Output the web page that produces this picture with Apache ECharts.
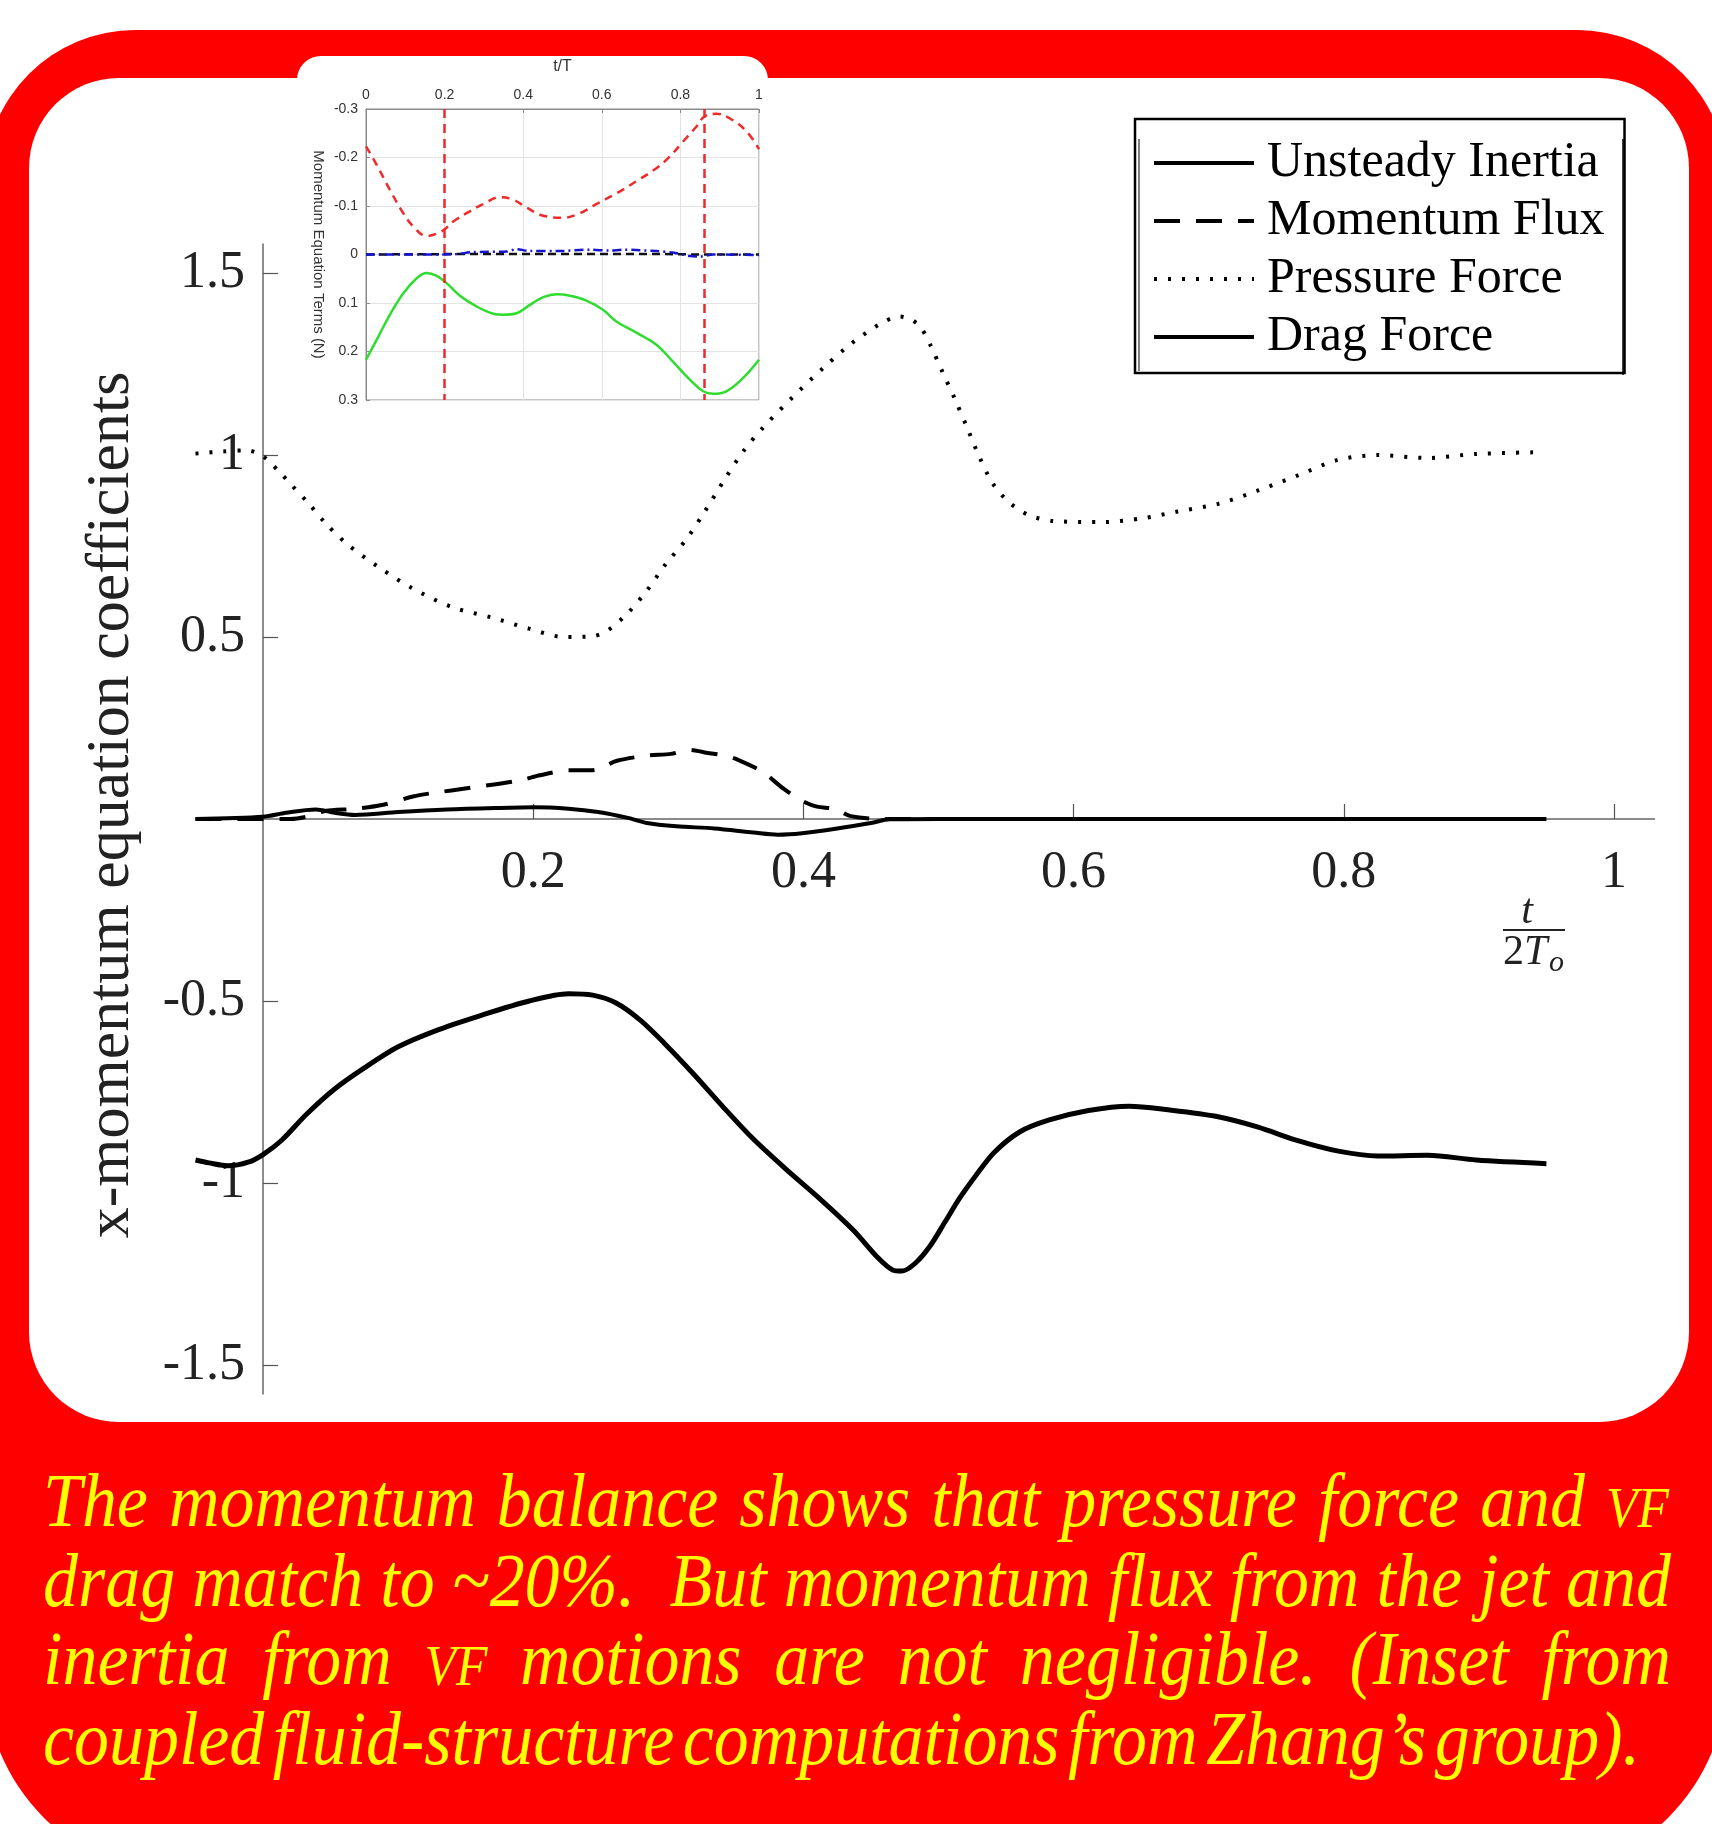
<!DOCTYPE html>
<html>
<head>
<meta charset="utf-8">
<script src="https://cdn.jsdelivr.net/npm/echarts@6/dist/echarts.min.js"></script>
<style>
html,body{margin:0;padding:0;background:#fff;}
#c{width:1712px;height:1824px;}
</style>
</head>
<body>
<div id="c"></div>
<script>
// ---------------- DATA ----------------
const xTickValues = [0.2, 0.4, 0.6, 0.8, 1];
const yTickValues = [-1.5, -1, -0.5, 0.5, 1, 1.5];
const seriesNames = ['Unsteady Inertia', 'Momentum Flux', 'Pressure Force', 'Drag Force'];

const unsteadyInertia = [[-0.05,0],[0,0.006],[0.017,0.017],[0.039,0.026],[0.053,0.017],[0.068,0.011],[0.1,0.019],[0.136,0.026],[0.172,0.03],[0.201,0.032],[0.226,0.028],[0.248,0.019],[0.27,0.003],[0.284,-0.011],[0.306,-0.02],[0.334,-0.026],[0.363,-0.037],[0.381,-0.043],[0.399,-0.039],[0.425,-0.026],[0.45,-0.011],[0.464,-0.001],[0.5,0],[0.95,0]];

const momentumFlux = [[-0.05,0],[0.02,0],[0.032,0.006],[0.046,0.022],[0.068,0.028],[0.089,0.039],[0.111,0.062],[0.125,0.071],[0.154,0.086],[0.19,0.106],[0.205,0.12],[0.226,0.134],[0.244,0.134],[0.262,0.16],[0.284,0.174],[0.302,0.179],[0.316,0.19],[0.327,0.183],[0.342,0.174],[0.352,0.162],[0.37,0.129],[0.385,0.084],[0.399,0.05],[0.41,0.034],[0.423,0.028],[0.435,0.008],[0.46,0],[0.95,0]];

const pressureForce = [[-0.05,1.004],[-0.03,1.01],[-0.012,1.013],[0,0.997],[0.014,0.946],[0.021,0.918],[0.034,0.866],[0.046,0.814],[0.062,0.756],[0.086,0.691],[0.111,0.633],[0.14,0.582],[0.169,0.554],[0.197,0.523],[0.223,0.5],[0.244,0.502],[0.255,0.518],[0.27,0.566],[0.284,0.627],[0.298,0.7],[0.313,0.767],[0.327,0.845],[0.342,0.935],[0.356,1.013],[0.37,1.075],[0.392,1.159],[0.414,1.237],[0.435,1.305],[0.457,1.361],[0.471,1.381],[0.48,1.372],[0.487,1.35],[0.494,1.302],[0.503,1.228],[0.512,1.155],[0.521,1.077],[0.53,0.997],[0.54,0.923],[0.552,0.871],[0.567,0.835],[0.585,0.819],[0.622,0.816],[0.652,0.827],[0.677,0.845],[0.707,0.866],[0.736,0.902],[0.766,0.944],[0.795,0.986],[0.825,1.0],[0.862,0.992],[0.898,1.003],[0.946,1.008]];

const dragForce = [[-0.05,-0.937],[-0.04,-0.945],[-0.026,-0.953],[-0.011,-0.943],[0,-0.922],[0.014,-0.882],[0.032,-0.812],[0.053,-0.742],[0.075,-0.684],[0.1,-0.626],[0.129,-0.58],[0.161,-0.54],[0.197,-0.5],[0.226,-0.48],[0.244,-0.484],[0.261,-0.505],[0.279,-0.552],[0.297,-0.616],[0.319,-0.702],[0.34,-0.789],[0.362,-0.876],[0.387,-0.962],[0.412,-1.043],[0.437,-1.13],[0.455,-1.205],[0.466,-1.239],[0.473,-1.242],[0.483,-1.22],[0.494,-1.172],[0.505,-1.106],[0.516,-1.04],[0.527,-0.983],[0.541,-0.917],[0.56,-0.86],[0.582,-0.827],[0.611,-0.801],[0.641,-0.789],[0.67,-0.799],[0.707,-0.818],[0.736,-0.846],[0.766,-0.884],[0.795,-0.912],[0.825,-0.926],[0.862,-0.924],[0.898,-0.937],[0.95,-0.947]];

// inset (coupled FSI computations)
const insetRed = [[0,-0.223],[0.027,-0.185],[0.061,-0.133],[0.095,-0.085],[0.12,-0.058],[0.154,-0.038],[0.18,-0.043],[0.2,-0.052],[0.222,-0.068],[0.264,-0.089],[0.298,-0.104],[0.341,-0.118],[0.375,-0.113],[0.408,-0.097],[0.451,-0.08],[0.502,-0.076],[0.544,-0.085],[0.586,-0.104],[0.637,-0.126],[0.688,-0.151],[0.739,-0.178],[0.773,-0.202],[0.807,-0.233],[0.841,-0.264],[0.862,-0.285],[0.892,-0.29],[0.925,-0.281],[0.968,-0.254],[1,-0.217]];
const insetGreen = [[0,0.217],[0.027,0.176],[0.061,0.124],[0.095,0.08],[0.129,0.049],[0.154,0.038],[0.18,0.044],[0.205,0.059],[0.239,0.085],[0.281,0.107],[0.324,0.122],[0.349,0.124],[0.383,0.121],[0.417,0.104],[0.451,0.088],[0.485,0.082],[0.519,0.085],[0.561,0.095],[0.603,0.114],[0.637,0.138],[0.688,0.161],[0.739,0.186],[0.781,0.221],[0.824,0.258],[0.858,0.282],[0.883,0.287],[0.917,0.282],[0.959,0.255],[1,0.217]];
const insetBlue = [[0,0],[0.2,0],[0.231,-0.001],[0.273,-0.005],[0.358,-0.006],[0.383,-0.011],[0.417,-0.007],[0.485,-0.007],[0.57,-0.01],[0.62,-0.008],[0.654,-0.01],[0.739,-0.007],[0.781,-0.004],[0.824,0.003],[0.85,0.004],[0.883,0],[1,0.001]];
const insetBlack = [[0,0],[0.25,-0.001],[0.75,-0.001],[0.85,0],[1,0]];
const insetMarkers = [0.2, 0.86];

// '' marks an extra (double) space
const captionLines = [
  ['The','momentum','balance','shows','that','pressure','force','and','VF'],
  ['drag','match','to','~20%.','','But','momentum','flux','from','the','jet','and'],
  ['inertia','from','VF','motions','are','not','negligible.','(Inset','from'],
  ['coupled','fluid-structure','computations','from','Zhang\u2019s','group).']
];

// ---------------- LAYOUT HELPERS ----------------
const SERIF = '"Liberation Serif","Times New Roman",serif';
const capF = 76, capSmall = 56, capSX = 0.92;
const capLeft = 43;
const capRight = [1669, 1671, 1671, 1640];
const capBase = [1530, 1610, 1688, 1768];
const mctx = document.createElement('canvas').getContext('2d');
function wordFont(w){ return w === 'VF' ? capSmall : capF; }
function measureWord(w){
  if (!w) return 0;
  mctx.font = 'italic ' + wordFont(w) + 'px ' + SERIF;
  return mctx.measureText(w).width * capSX;
}
const captionGraphics = [];
captionLines.forEach(function(words, li){
  const widths = words.map(measureWord);
  const total = widths.reduce(function(a,b){return a+b;},0);
  let gap = (capRight[li] - capLeft - total) / (words.length - 1);
  if (gap < 6) gap = 6;
  let x = capLeft;
  words.forEach(function(w, wi){
    if (w) {
      const fs = wordFont(w);
      captionGraphics.push({
        type: 'text', x: x, y: capBase[li] - 0.31 * fs, scaleX: capSX, scaleY: 1, z: 50, silent: true,
        style: {
          text: w, fontFamily: SERIF, fontStyle: 'italic', fontSize: fs,
          fill: '#ffff00', align: 'left', verticalAlign: 'middle',
          textShadowColor: 'rgba(0,0,0,0.95)', textShadowBlur: 0,
          textShadowOffsetX: 2, textShadowOffsetY: 3
        }
      });
    }
    x += widths[wi] + gap;
  });
});

// ---------------- CHART ----------------
const chart = echarts.init(document.getElementById('c'), null, {renderer: 'canvas'});

const mainLine = function(name, data, width, type, z){
  return {
    name: name, type: 'line', xAxisIndex: 0, yAxisIndex: 0, data: data,
    smooth: 0.3, symbol: 'none', showSymbol: false, z: z || 5,
    itemStyle: {color: '#000'},
    lineStyle: {color: '#000', width: width, type: type || 'solid', cap: 'butt'}
  };
};

// main grid geometry: x in [-0.05, 1.03], y in [-1.58, 1.58]
const G = {left: 195.5, top: 244, width: 1459, height: 1150, xmin: -0.05, xmax: 1.03, ymin: -1.58, ymax: 1.58};
const yAxisOffset = -G.width * (0 - G.xmin) / (G.xmax - G.xmin);   // move y axis to x = 0
const xAxisOffset = -G.height * (0 - G.ymin) / (G.ymax - G.ymin);  // move x axis to y = 0

const option = {
  animation: false,
  backgroundColor: '#ffffff',
  graphic: [
    {type: 'rect', z: -100, silent: true, shape: {x: -15, y: 30, width: 1742, height: 1846, r: [150,150,200,200]}, style: {fill: '#ff0000'}},
    {type: 'rect', z: -99, silent: true, shape: {x: 29, y: 78, width: 1660, height: 1344, r: 90}, style: {fill: '#ffffff'}},
    {type: 'rect', z: -99, silent: true, shape: {x: 297, y: 56, width: 471, height: 300, r: 24}, style: {fill: '#ffffff'}},
    {type: 'line', z: 20, silent: true, shape: {x1: 1623, y1: 139, x2: 1623, y2: 375}, style: {stroke: '#000', lineWidth: 1.5}},
    {type: 'line', z: 20, silent: true, shape: {x1: 1139, y1: 139, x2: 1139, y2: 371}, style: {stroke: '#000', lineWidth: 1}},
    {type: 'text', x: 1527, y: 912, z: 20, silent: true, style: {text: 't', fontFamily: SERIF, fontStyle: 'italic', fontSize: 42, fill: '#222', align: 'center', verticalAlign: 'middle'}},
    {type: 'line', z: 20, silent: true, shape: {x1: 1503, y1: 930, x2: 1565, y2: 930}, style: {stroke: '#222', lineWidth: 2}},
    {type: 'text', x: 1503, y: 953, z: 20, silent: true, style: {text: '2', fontFamily: SERIF, fontSize: 42, fill: '#222', align: 'left', verticalAlign: 'middle'}},
    {type: 'text', x: 1524, y: 953, z: 20, silent: true, style: {text: 'T', fontFamily: SERIF, fontStyle: 'italic', fontSize: 42, fill: '#222', align: 'left', verticalAlign: 'middle'}},
    {type: 'text', x: 1549, y: 963, z: 20, silent: true, style: {text: 'o', fontFamily: SERIF, fontStyle: 'italic', fontSize: 30, fill: '#222', align: 'left', verticalAlign: 'middle'}}
  ].concat(captionGraphics),
  legend: {
    orient: 'vertical', left: 1135, top: 119,
    itemWidth: 100, itemHeight: 20, itemGap: 0,
    padding: [15, 20, 7, 17],
    borderColor: '#000', borderWidth: 2.5, backgroundColor: '#fff',
    itemStyle: {opacity: 0},
    lineStyle: {width: 4},
    textStyle: {fontFamily: SERIF, fontSize: 50, color: '#000', lineHeight: 58, padding: [0, 0, 0, 8]},
    data: seriesNames
  },
  grid: [
    {left: G.left, top: G.top, width: G.width, height: G.height, outerBoundsMode: 'none', containLabel: false},
    {left: 366, top: 109, width: 393, height: 291, show: true, backgroundColor: '#fff', borderColor: '#8a8a8a', borderWidth: 1, outerBoundsMode: 'none', containLabel: false}
  ],
  xAxis: [
    {
      gridIndex: 0, type: 'value', min: G.xmin, max: G.xmax, position: 'bottom', offset: xAxisOffset,
      axisLine: {show: true, onZero: false, lineStyle: {color: '#666', width: 1.5}},
      axisTick: {show: true, inside: true, length: 15, customValues: xTickValues, lineStyle: {color: '#555', width: 1.2}},
      axisLabel: {show: true, customValues: xTickValues, margin: 28, fontFamily: SERIF, fontSize: 52, color: '#222',
        formatter: function(v){ return String(Math.round(v*10)/10); }},
      splitLine: {show: false}
    },
    {
      gridIndex: 1, type: 'value', min: 0, max: 1, interval: 0.2, position: 'top',
      name: 't/T', nameLocation: 'middle', nameGap: 34,
      nameTextStyle: {fontFamily: '"Liberation Sans",Arial,sans-serif', fontSize: 16, color: '#333'},
      axisLine: {show: true, onZero: false, lineStyle: {color: '#8a8a8a', width: 1}},
      axisTick: {show: true, inside: true, length: 4, lineStyle: {color: '#8a8a8a'}},
      axisLabel: {fontFamily: '"Liberation Sans",Arial,sans-serif', fontSize: 14, color: '#333', margin: 7,
        formatter: function(v){ return String(Math.round(v*10)/10); }},
      splitLine: {show: true, lineStyle: {color: '#e3e3e3', width: 1}}
    }
  ],
  yAxis: [
    {
      gridIndex: 0, type: 'value', min: G.ymin, max: G.ymax, position: 'left', offset: yAxisOffset,
      name: 'x-momentum equation coefficients', nameLocation: 'middle', nameGap: 120, nameRotate: 90,
      nameTextStyle: {fontFamily: SERIF, fontSize: 62, color: '#222', padding: [0, 0, 0, 28]},
      axisLine: {show: true, onZero: false, lineStyle: {color: '#666', width: 1.5}},
      axisTick: {show: true, inside: true, length: 15, customValues: yTickValues, lineStyle: {color: '#555', width: 1.2}},
      axisLabel: {show: true, customValues: yTickValues, margin: 18, fontFamily: SERIF, fontSize: 52, color: '#222',
        formatter: function(v){ return String(Math.round(v*10)/10); }},
      splitLine: {show: false}
    },
    {
      gridIndex: 1, type: 'value', min: -0.3, max: 0.3, interval: 0.1, inverse: true,
      name: 'Momentum Equation Terms (N)', nameLocation: 'middle', nameGap: 40, nameRotate: -90,
      nameTextStyle: {fontFamily: '"Liberation Sans",Arial,sans-serif', fontSize: 15, color: '#333'},
      axisLine: {show: true, onZero: false, lineStyle: {color: '#8a8a8a', width: 1}},
      axisTick: {show: true, inside: true, length: 4, lineStyle: {color: '#8a8a8a'}},
      axisLabel: {fontFamily: '"Liberation Sans",Arial,sans-serif', fontSize: 14, color: '#333', margin: 8,
        formatter: function(v){ const r = Math.round(v*10)/10; return r === 0 ? '0' : r.toFixed(1); }},
      splitLine: {show: true, lineStyle: {color: '#e3e3e3', width: 1}}
    }
  ],
  series: [
    mainLine(seriesNames[0], unsteadyInertia, 4, 'solid', 6),
    mainLine(seriesNames[1], momentumFlux, 4, [26, 16], 5),
    mainLine(seriesNames[2], pressureForce, 4, [3, 11], 5),
    mainLine(seriesNames[3], dragForce, 5, 'solid', 5),
    {
      name: 'inset-red', type: 'line', xAxisIndex: 1, yAxisIndex: 1, data: insetRed, smooth: 0.4, symbol: 'none',
      lineStyle: {color: '#ee2a2a', width: 2.5, type: [8, 6]}, itemStyle: {color: '#ee2a2a'},
      markLine: {
        silent: true, symbol: ['none', 'none'], label: {show: false},
        lineStyle: {color: '#ee2a2a', width: 2.5, type: [9, 6]},
        data: insetMarkers.map(function(v){ return {xAxis: v}; })
      }
    },
    {
      name: 'inset-black', type: 'line', xAxisIndex: 1, yAxisIndex: 1, data: insetBlack, symbol: 'none',
      lineStyle: {color: '#111', width: 2.5, type: [8, 5]}, itemStyle: {color: '#111'}
    },
    {
      name: 'inset-blue', type: 'line', xAxisIndex: 1, yAxisIndex: 1, data: insetBlue, smooth: 0.3, symbol: 'none',
      lineStyle: {color: '#1515cc', width: 2.5, type: [9, 4, 2, 4]}, itemStyle: {color: '#1515cc'}
    },
    {
      name: 'inset-green', type: 'line', xAxisIndex: 1, yAxisIndex: 1, data: insetGreen, smooth: 0.4, symbol: 'none',
      lineStyle: {color: '#2fdc2f', width: 2.5}, itemStyle: {color: '#2fdc2f'}
    }
  ]
};
chart.setOption(option);
</script>
</body>
</html>
